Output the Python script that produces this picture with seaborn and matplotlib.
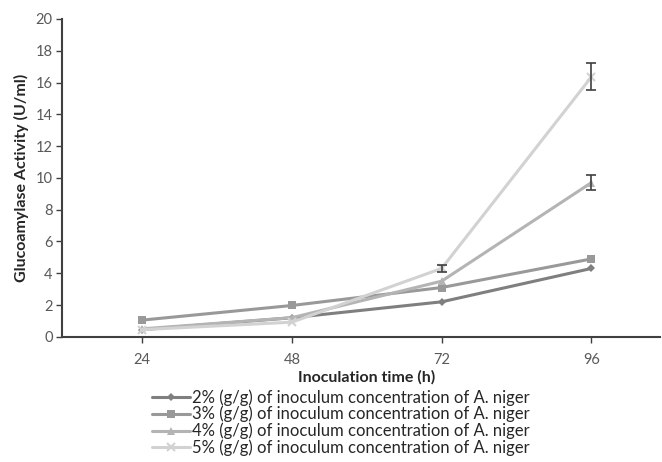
import numpy as np
import pandas as pd
import seaborn as sns
import matplotlib.pyplot as plt

# data
times = [24, 48, 72, 96]
groups = ["2% (g/g) of inoculum concentration of A. niger",
          "3% (g/g) of inoculum concentration of A. niger",
          "4% (g/g) of inoculum concentration of A. niger",
          "5% (g/g) of inoculum concentration of A. niger"]
conc2 = [0.45, 1.2, 2.2, 4.3]
conc3 = [1.05, 1.97, 3.1, 4.9]
conc4 = [0.5, 1.2, 3.5, 9.7]
conc5 = [0.45, 0.92, 4.3, 16.35]
err4 = [0.0, 0.0, 0.0, 0.45]
err5 = [0.0, 0.0, 0.2, 0.85]

colors = ["#7f7f7f", "#999999", "#b4b4b4", "#d2d2d2"]
markers = ["D", "s", "^", "x"]
msizes = [6, 8.5, 8.5, 8.5]

sns.set_style("white")
plt.rcParams['font.family'] = ['Lato', 'DejaVu Sans']

fig = plt.figure(figsize=(6.62, 4.62), dpi=100)
ax = fig.add_axes([0.094, 0.271, 0.903, 0.688])

series = [conc2, conc3, conc4, conc5]
for vals, name, c, m, ms in zip(series, groups, colors, markers, msizes):
    d = pd.DataFrame({"time": times, "activity": vals})
    sns.lineplot(data=d, x="time", y="activity", color=c, marker=m,
                 markersize=ms, markeredgewidth=1.5 if m == "x" else 0,
                 markeredgecolor=c, linewidth=2.2, ax=ax, label=name)

# error bars only where they are visible in the source
for vals, err in [(conc4, err4), (conc5, err5)]:
    for t, v, e in zip(times, vals, err):
        if e > 0:
            ax.errorbar(t, v, yerr=e, fmt='none', ecolor='#404040',
                        elinewidth=1.2, capsize=3.5, capthick=1.2)

ax.set_xlim(11.2, 107)
ax.set_ylim(0, 20)
ax.set_yticks(np.arange(0, 21, 2))
ax.set_xticks(times)
ax.set_xticklabels([str(t) for t in times])
ax.tick_params(axis='both', colors='#404040', labelcolor='#595959',
               labelsize=10.5, length=4, width=1, direction='out')
ax.tick_params(axis='x', pad=8)
ax.tick_params(axis='y', pad=3)
ax.tick_params(left=True, bottom=True)

for side in ['top', 'right']:
    ax.spines[side].set_visible(False)
for side in ['left', 'bottom']:
    ax.spines[side].set_color('#404040')
    ax.spines[side].set_linewidth(1.5)

ax.set_xlabel("Inoculation time (h)", fontweight='bold', fontsize=11.5, labelpad=0)
ax.xaxis.set_label_coords(0.51, -0.106)
ax.set_ylabel("Glucoamylase Activity (U/ml)", fontweight='bold', fontsize=11.5, labelpad=5)

handles, labels = ax.get_legend_handles_labels()
ax.get_legend().remove()
for h in handles:
    h.set_markersize(6 if h.get_marker() != "D" else 4.5)
fig.legend(handles, labels, loc='upper left', bbox_to_anchor=(0.229, 0.158),
           frameon=False, fontsize=12, handlelength=2.3, handletextpad=0.1,
           labelspacing=0.02, borderpad=0, borderaxespad=0)

fig.savefig("out.png", dpi=100)
